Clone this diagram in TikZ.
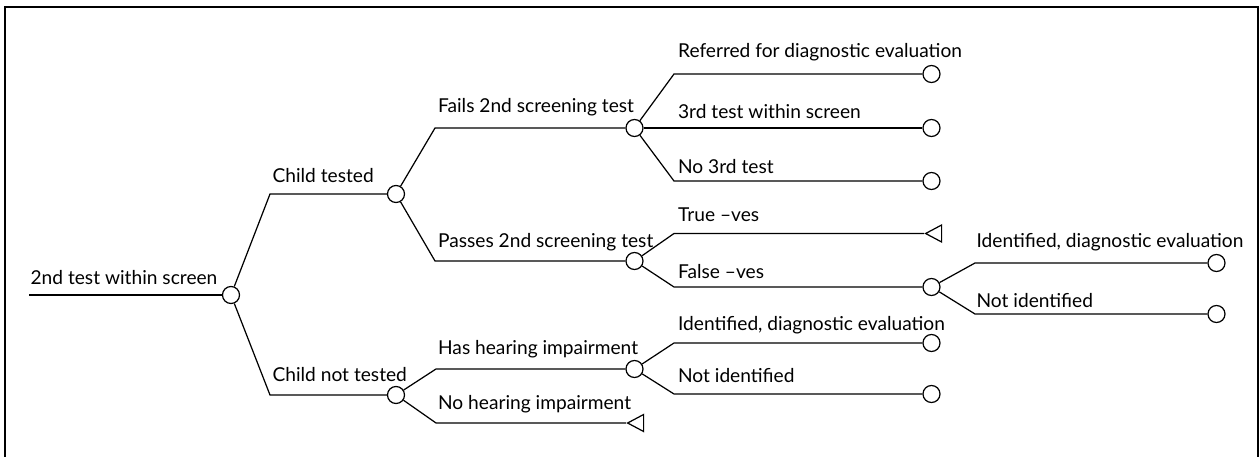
\documentclass[tikz,border=0pt]{standalone}
\usepackage{fontspec}
\setmainfont{Lato}
\usetikzlibrary{shapes.geometric}

\tikzset{
  chance/.style={draw, circle, fill=white, inner sep=0pt, minimum size=3.4mm},
  endtri/.style={draw, isosceles triangle, shape border rotate=180, isosceles triangle stretches,
    minimum width=3.4mm, minimum height=3.2mm, inner sep=0pt, anchor=apex},
  lbl/.style={anchor=base west, inner sep=0pt, font=\fontsize{10.9}{13}\selectfont},
}

\begin{document}
\begin{tikzpicture}[x=0.2mm, y=-0.2mm, line width=0.7pt]
  \useasboundingbox (0,0) rectangle (1259,457);
  % Frame (open at the bottom)
  \draw (5,457) -- (5,7) -- (1258,7) -- (1258,457);

  % Root
  \coordinate (start) at (29,295);
  \node[chance] (root) at (231,295) {};
  \draw (start) -- (root);
  \node[lbl] (l-root) at (30,284) {2nd test within screen};

  % Child tested / not tested
  \coordinate (ct-in) at (270,194);
  \coordinate (cnt-in) at (270,395);
  \node[chance] (ct) at (396,194) {};
  \node[chance] (cnt) at (396,395) {};
  \draw (root) -- (ct-in) -- (ct);
  \draw (root) -- (cnt-in) -- (cnt);
  \node[lbl] (l-ct) at (272,183) {Child tested};
  \node[lbl] (l-cnt) at (272,381) {Child not tested};

  % Fails / passes 2nd screening test
  \coordinate (f2-in) at (435,128);
  \coordinate (p2-in) at (435,261);
  \node[chance] (f2) at (634.5,128) {};
  \node[chance] (p2) at (634.5,261) {};
  \draw (ct) -- (f2-in) -- (f2);
  \draw (ct) -- (p2-in) -- (p2);
  \node[lbl] (l-f2) at (437.5,113) {Fails 2nd screening test};
  \node[lbl] (l-p2) at (437.5,247) {Passes 2nd screening test};

  % Has / no hearing impairment
  \coordinate (hi-in) at (436,369);
  \coordinate (nohi-in) at (436,423);
  \node[chance] (hi) at (634.5,369) {};
  \node[endtri] (nohi) at (626,423) {};
  \draw (cnt) -- (hi-in) -- (hi);
  \draw (cnt) -- (nohi-in) -- (nohi);
  \node[lbl] (l-hi) at (437.5,354) {Has hearing impairment};
  \node[lbl] (l-nohi) at (437.5,409) {No hearing impairment};

  % After failing
  \coordinate (ref-in) at (674,74);
  \coordinate (no3-in) at (674,181);
  \node[chance] (ref) at (931.5,74) {};
  \node[chance] (third) at (931.5,128) {};
  \node[chance] (no3) at (931.5,181) {};
  \draw (f2) -- (ref-in) -- (ref);
  \draw (f2) -- (third);
  \draw (f2) -- (no3-in) -- (no3);
  \node[lbl] (l-ref) at (677.5,58) {Referred for diagnostic evaluation};
  \node[lbl] (l-third) at (677.5,119) {3rd test within screen};
  \node[lbl] (l-no3) at (677.5,174) {No 3rd test};

  % After passing
  \coordinate (tn-in) at (674,233.5);
  \coordinate (fn-in) at (674,287);
  \node[endtri] (tn) at (924,233.5) {};
  \node[chance] (fn) at (931.5,287) {};
  \draw (p2) -- (tn-in) -- (tn);
  \draw (p2) -- (fn-in) -- (fn);
  \node[lbl] (l-tn) at (677.5,221.5) {True \textendash ves};
  \node[lbl] (l-fn) at (677.5,278.5) {False \textendash ves};

  % False -ves identified or not
  \coordinate (fnid-in) at (975,263);
  \coordinate (fnnot-in) at (975,314);
  \node[chance] (fnid) at (1216.5,263) {};
  \node[chance] (fnnot) at (1216.5,314) {};
  \draw (fn) -- (fnid-in) -- (fnid);
  \draw (fn) -- (fnnot-in) -- (fnnot);
  \node[lbl] (l-fnid) at (976,247) {Identified, diagnostic evaluation};
  \node[lbl] (l-fnnot) at (976,307) {Not identified};

  % Hearing impairment identified or not
  \coordinate (hiid-in) at (674,343);
  \coordinate (hinot-in) at (674,394);
  \node[chance] (hiid) at (931.5,343) {};
  \node[chance] (hinot) at (931.5,394) {};
  \draw (hi) -- (hiid-in) -- (hiid);
  \draw (hi) -- (hinot-in) -- (hinot);
  \node[lbl] (l-hiid) at (677.5,330.5) {Identified, diagnostic evaluation};
  \node[lbl] (l-hinot) at (677.5,382.5) {Not identified};
\end{tikzpicture}
\end{document}
